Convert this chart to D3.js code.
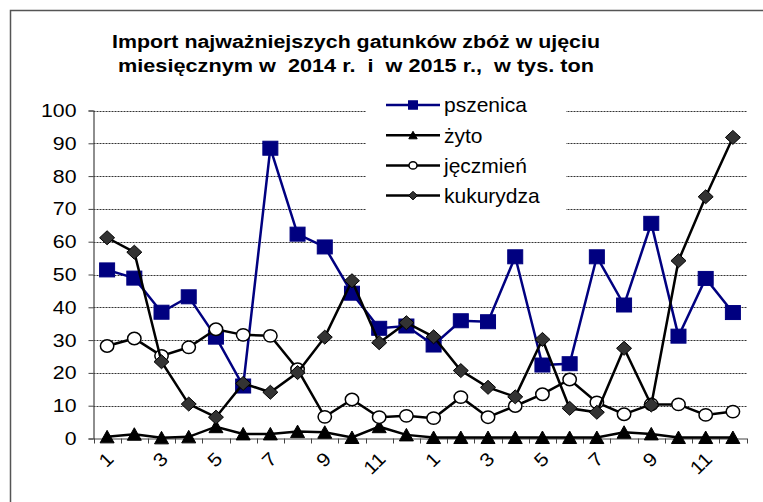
<!DOCTYPE html>
<html><head><meta charset="utf-8">
<script src="https://cdn.jsdelivr.net/npm/d3@7"></script>
<style>
html,body{margin:0;padding:0;background:#fff;}
svg{display:block;font-family:Arial,"Liberation Sans",sans-serif;}
</style></head>
<body>
<svg id="c" width="763" height="502"></svg>
<script>
const months = ["1","2","3","4","5","6","7","8","9","10","11","12","1","2","3","4","5","6","7","8","9","10","11","12"];
const yTicks = [0,10,20,30,40,50,60,70,80,90,100];
const titleLines = ["Import najważniejszych gatunków zbóż w ujęciu","miesięcznym w  2014 r.  i  w 2015 r.,  w tys. ton"];
const seriesNames = ["pszenica","żyto","jęczmień","kukurydza"];
const pszenica  = [51.4,48.9,38.5,43.2,30.9,16.0,88.5,62.3,58.4,44.3,33.6,34.3,28.5,35.9,35.6,55.4,22.4,22.8,55.4,40.7,65.6,31.2,48.8,38.4];
const zyto      = [0.5,1.3,0.2,0.5,3.6,1.4,1.4,2.1,1.9,0.3,3.6,1.1,0.3,0.3,0.3,0.3,0.3,0.3,0.3,1.9,1.4,0.3,0.3,0.3];
const jeczmien  = [28.2,30.5,25.2,27.8,33.3,31.6,31.3,21.1,6.6,11.9,6.5,6.9,6.2,12.6,6.5,9.9,13.5,18.0,11.0,7.4,10.4,10.4,7.2,8.2];
const kukurydza = [61.2,56.8,23.4,10.5,6.5,16.8,14.1,20.1,30.9,48.1,29.2,35.3,31.0,20.7,15.6,12.7,30.2,9.2,8.0,27.5,10.2,54.2,73.7,91.8];

const svg = d3.select("#c");
const L = 93.5, R = 746.5, T = 110.5, B = 438.5;
const x = d3.scaleBand().domain(d3.range(months.length)).range([L, R]);
const cx = i => x(i) + x.bandwidth()/2;
const y = d3.scaleLinear().domain([0,100]).range([B, T]);
const SX = 1.12;

// outer border
svg.append("rect").attr("x",10.5).attr("y",10.5).attr("width",800).attr("height",600)
  .attr("fill","none").attr("stroke","#555").attr("stroke-width",1.5);

// title
titleLines.forEach((t,i)=>{
  svg.append("text").attr("x",356).attr("y",48 + i*24).attr("text-anchor","middle")
    .style("white-space","pre").attr("xml:space","preserve")
    .attr("font-weight","bold").attr("font-size",18).attr("fill","#000")
    .attr("textLength", i===0?488:476).attr("lengthAdjust","spacingAndGlyphs").text(t);
});

// gridlines
svg.append("g").selectAll("line").data(yTicks.filter(d=>d>0)).join("line")
  .attr("x1",L).attr("x2",R).attr("y1",d=>Math.round(y(d))+0.5).attr("y2",d=>Math.round(y(d))+0.5)
  .attr("stroke","#333").attr("stroke-width",1).attr("stroke-dasharray","2,1");

// y axis
const ya = svg.append("g").attr("transform",`translate(${L},0)`)
  .call(d3.axisLeft(y).tickValues(yTicks).tickSize(5).tickPadding(12));
ya.select(".domain").attr("stroke","#444").attr("stroke-width",1.2);
ya.selectAll(".tick line").attr("stroke","#444");
ya.selectAll("text").attr("font-size",19).attr("font-family","Arial, 'Liberation Sans', sans-serif").attr("fill","#000")
  .attr("x",-17/SX).attr("transform",`scale(${SX},1)`);

// x axis
const xa = svg.append("g").attr("transform",`translate(0,${B})`)
  .call(d3.axisBottom(x).tickSize(0).tickFormat(""));
xa.select(".domain").attr("stroke","#444").attr("stroke-width",1.2);
xa.selectAll(".tick").remove();
const bounds = d3.range(months.length).map(i=>x(i)).concat([R]);
svg.append("g").selectAll("line").data(bounds).join("line")
  .attr("x1",d=>Math.round(d)+0.5).attr("x2",d=>Math.round(d)+0.5).attr("y1",B).attr("y2",B+5)
  .attr("stroke","#444");
svg.append("g").selectAll("text").data(months.map((m,i)=>({m,i})).filter(d=>d.i%2===0)).join("text")
  .attr("transform",d=>`translate(${cx(d.i)+3},${B+17}) rotate(-45) scale(${SX},1)`)
  .attr("text-anchor","end").attr("dy","0.35em").attr("font-size",19).attr("fill","#000")
  .text(d=>d.m);

// series
const series = [
  {name:seriesNames[0], data:pszenica, color:"#000080", sym:"square"},
  {name:seriesNames[1], data:zyto, color:"#000", sym:"triangle"},
  {name:seriesNames[2], data:jeczmien, color:"#000", sym:"circle"},
  {name:seriesNames[3], data:kukurydza, color:"#000", sym:"diamond"}
];
function marker(g, s, px, py, k){
  if(s.sym==="square"){
    g.append("rect").attr("x",px-7.5*k).attr("y",py-7*k).attr("width",15*k).attr("height",14*k)
      .attr("fill","#000080").attr("stroke","#000080").attr("stroke-width",1);
  } else if(s.sym==="triangle"){
    g.append("path").attr("d",`M${px},${py-6.5*k}L${px+7*k},${py+6*k}L${px-7*k},${py+6*k}Z`)
      .attr("fill","#000").attr("stroke","#000");
  } else if(s.sym==="circle"){
    g.append("ellipse").attr("cx",px).attr("cy",py).attr("rx",6.7*k).attr("ry",6.2*k)
      .attr("fill","#fff").attr("stroke","#000").attr("stroke-width",1.5);
  } else {
    g.append("path").attr("d",`M${px},${py-7*k}L${px+7.5*k},${py}L${px},${py+7*k}L${px-7.5*k},${py}Z`)
      .attr("fill","#333").attr("stroke","#000").attr("stroke-width",1);
  }
}
const line = d3.line().x((d,i)=>cx(i)).y(d=>y(d));
series.forEach(s=>{
  const g = svg.append("g");
  g.append("path").attr("d",line(s.data)).attr("fill","none").attr("stroke",s.color).attr("stroke-width",2.5);
  s.data.forEach((v,i)=>marker(g,s,cx(i),y(v),1));
});

// legend
const lg = svg.append("g");
lg.append("rect").attr("x",366).attr("y",93).attr("width",200).attr("height",122).attr("fill","#fff");
series.forEach((s,i)=>{
  const ly = 105 + i*30.2;
  lg.append("line").attr("x1",386).attr("x2",440).attr("y1",ly).attr("y2",ly)
    .attr("stroke",s.color).attr("stroke-width",2.5);
  marker(lg,s,413,ly,0.6);
  lg.append("text").attr("x",444).attr("y",ly).attr("dy","0.35em").attr("font-size",21).attr("fill","#000").text(s.name);
});
</script>
</body></html>
